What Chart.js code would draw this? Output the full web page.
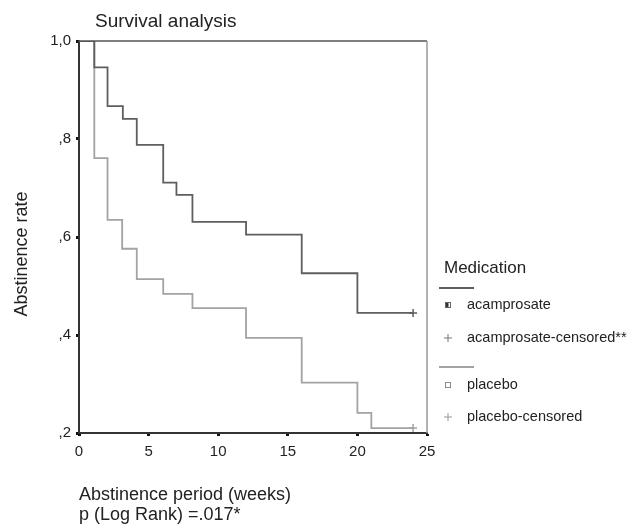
<!DOCTYPE html>
<html>
<head>
<meta charset="utf-8">
<script src="https://cdn.jsdelivr.net/npm/chart.js@4"></script>
<style>
  body { margin: 0; background: #fff; }
  canvas { display: block; }
</style>
</head>
<body>
<canvas id="survivalChart" width="630" height="528"></canvas>
<script>
const ctx = document.getElementById('survivalChart');

// Kaplan-Meier steps (weeks, abstinence rate)
const weeksAcamprosate = [0, 1.1, 2.05, 3.15, 4.15, 6.05, 7, 8.15, 12, 16, 20, 24];
const rateAcamprosate = [1.0, 0.946, 0.867, 0.841, 0.788, 0.711, 0.686, 0.631, 0.605, 0.526, 0.445, 0.445];
const weeksPlacebo = [0, 1.1, 2.05, 3.1, 4.15, 6.05, 8.15, 12, 16, 20, 21, 24];
const ratePlacebo = [1.0, 0.761, 0.635, 0.576, 0.514, 0.484, 0.455, 0.394, 0.303, 0.241, 0.21, 0.21];

// censored cases
const censoredWeeksAcamprosate = [24];
const censoredRateAcamprosate = [0.445];
const censoredWeeksPlacebo = [24];
const censoredRatePlacebo = [0.21];

const yTickLabels = [',2', ',4', ',6', ',8', '1,0'];
const legendLabels = ['acamprosate', 'acamprosate-censored**', 'placebo', 'placebo-censored'];

const FONT = "'Liberation Sans', Arial, Helvetica, sans-serif";
const darkLine = '#5e5e5e';
const lightLine = '#a3a3a3';
const textColor = '#222';

const toPoints = (xs, ys) => xs.map((x, i) => ({ x: x, y: ys[i] }));

// title, y axis title, box edges and the legend block
const extras = {
  id: 'extras',
  afterDraw(chart) {
    const c = chart.ctx;
    const area = chart.chartArea;
    c.save();

    // top and right edges of the frame
    c.lineWidth = 1.5;
    c.strokeStyle = '#555';
    c.beginPath();
    c.moveTo(area.left, area.top);
    c.lineTo(area.right, area.top);
    c.stroke();
    c.strokeStyle = '#999';
    c.beginPath();
    c.moveTo(area.right, area.top);
    c.lineTo(area.right, area.bottom);
    c.stroke();

    c.fillStyle = textColor;
    c.textBaseline = 'middle';
    c.textAlign = 'left';
    c.font = '19px ' + FONT;
    c.fillText('Survival analysis', 95, 22);

    c.save();
    c.translate(22, 254);
    c.rotate(-Math.PI / 2);
    c.textAlign = 'center';
    c.font = '18px ' + FONT;
    c.fillText('Abstinence rate', 0, 0);
    c.restore();

    // legend
    c.font = '17px ' + FONT;
    c.fillText('Medication', 444, 268);

    c.lineWidth = 1.8;
    c.strokeStyle = darkLine;
    c.beginPath();
    c.moveTo(439, 288);
    c.lineTo(474, 288);
    c.stroke();
    c.strokeStyle = lightLine;
    c.beginPath();
    c.moveTo(439, 367);
    c.lineTo(474, 367);
    c.stroke();

    // acamprosate marker: half filled square
    c.lineWidth = 1;
    c.strokeStyle = '#666';
    c.fillStyle = '#333';
    c.fillRect(445.5, 302.5, 3, 5);
    c.strokeRect(445.5, 302.5, 5, 5);
    // placebo marker: open square
    c.strokeStyle = '#888';
    c.strokeRect(445.5, 382.5, 5, 5);

    // censored crosses
    const cross = (x, y, col) => {
      c.strokeStyle = col;
      c.beginPath();
      c.moveTo(x - 4, y);
      c.lineTo(x + 4, y);
      c.moveTo(x, y - 4);
      c.lineTo(x, y + 4);
      c.stroke();
    };
    cross(448, 338, '#777');
    cross(448, 417, '#999');

    c.fillStyle = textColor;
    c.font = '14.5px ' + FONT;
    c.fillText(legendLabels[0], 467, 305);
    c.fillText(legendLabels[1], 467, 338);
    c.fillText(legendLabels[2], 467, 385);
    c.fillText(legendLabels[3], 467, 417);

    c.restore();
  },
};

const chart = new Chart(ctx, {
  type: 'scatter',
  data: {
    datasets: [
      {
        label: legendLabels[0],
        data: toPoints(weeksAcamprosate, rateAcamprosate),
        showLine: true,
        stepped: 'before',
        borderColor: darkLine,
        borderWidth: 1.8,
        pointRadius: 0,
      },
      {
        label: legendLabels[2],
        data: toPoints(weeksPlacebo, ratePlacebo),
        showLine: true,
        stepped: 'before',
        borderColor: lightLine,
        borderWidth: 1.8,
        pointRadius: 0,
      },
      {
        label: legendLabels[1],
        data: toPoints(censoredWeeksAcamprosate, censoredRateAcamprosate),
        pointStyle: 'cross',
        pointRadius: 4,
        borderColor: darkLine,
        borderWidth: 1.5,
      },
      {
        label: legendLabels[3],
        data: toPoints(censoredWeeksPlacebo, censoredRatePlacebo),
        pointStyle: 'cross',
        pointRadius: 4,
        borderColor: lightLine,
        borderWidth: 1.5,
      },
    ],
  },
  options: {
    responsive: false,
    animation: false,
    devicePixelRatio: 1,
    layout: { padding: { left: 0, top: 41, right: 203, bottom: 0 } },
    plugins: {
      legend: { display: false },
      tooltip: { enabled: false },
    },
    scales: {
      x: {
        type: 'linear',
        min: 0,
        max: 25,
        ticks: {
          stepSize: 5,
          padding: 7,
          color: textColor,
          font: { family: FONT, size: 15 },
        },
        grid: {
          drawOnChartArea: false,
          tickLength: 3,
          tickWidth: 3,
          tickColor: '#111',
        },
        border: { color: '#333', width: 2 },
        title: {
          display: true,
          text: ['Abstinence period (weeks)', 'p (Log Rank) =.017*'],
          align: 'start',
          color: textColor,
          font: { family: FONT, size: 18, lineHeight: 1.11 },
          padding: { top: 4, bottom: 3 },
        },
        afterFit(scale) {
          scale.height = 95;
        },
      },
      y: {
        type: 'linear',
        min: 0.2,
        max: 1.0,
        ticks: {
          stepSize: 0.2,
          padding: 5,
          color: textColor,
          font: { family: FONT, size: 15 },
          callback: (value, index) => yTickLabels[index],
        },
        grid: {
          drawOnChartArea: false,
          tickLength: 3,
          tickWidth: 3,
          tickColor: '#111',
        },
        border: { color: '#333', width: 2 },
        afterFit(scale) {
          scale.width = 79;
        },
      },
    },
  },
  plugins: [extras],
});
</script>
</body>
</html>
